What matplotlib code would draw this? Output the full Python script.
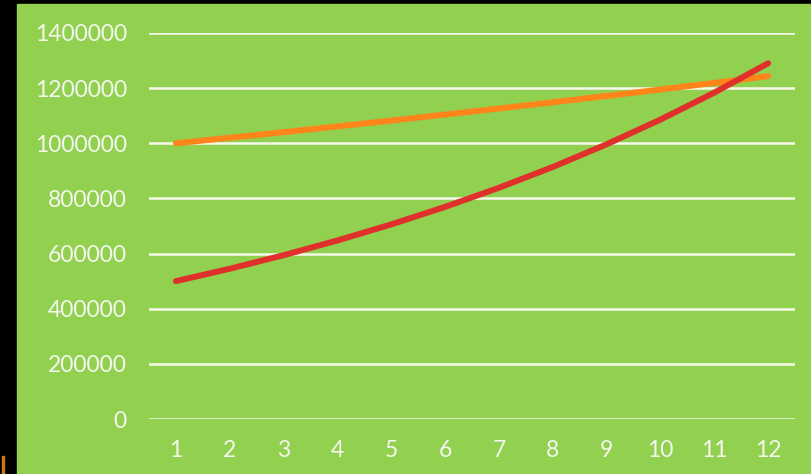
import matplotlib
matplotlib.use("Agg")
import matplotlib.pyplot as plt
from matplotlib.patches import Rectangle

# data
periods = list(range(1, 13))
orange_vals = [1000000, 1020000, 1040400, 1061208, 1082432, 1104081,
               1126162, 1148686, 1171659, 1195093, 1218994, 1243374]
red_vals = [500000, 545000, 594050, 647515, 705791, 769312,
            838550, 914020, 996281, 1085947, 1183682, 1290214]
yticks = [0, 200000, 400000, 600000, 800000, 1000000, 1200000, 1400000]

GREEN = "#92d050"
TXT = "#f4f7ee"

plt.rcParams["font.family"] = ["Lato", "DejaVu Sans"]

W, H = 812, 474
fig = plt.figure(figsize=(W / 100, H / 100), dpi=100, facecolor="black")
# green panel, black strip on left and top
fig.patches.append(Rectangle((17 / W, 0), 1 - 17 / W, 1 - 4 / H,
                             transform=fig.transFigure, color=GREEN,
                             zorder=-5))
# orange sliver at the bottom-left edge
fig.patches.append(Rectangle((2 / W, 0), 2.5 / W, 18 / H,
                             transform=fig.transFigure, color="#c87a10",
                             zorder=-4))

ax = fig.add_axes([149 / W, 55 / H, (795 - 149) / W, (419 - 33) / H])
ax.set_facecolor("none")
ax.plot(periods, orange_vals, color="#ff8419", lw=4.3,
        solid_capstyle="round", zorder=3)
ax.plot(periods, red_vals, color="#e0302b", lw=4.3,
        solid_capstyle="round", zorder=4)

ax.set_xlim(0.5, 12.5)
ax.set_ylim(0, 1400000)
ax.set_yticks(yticks)
ax.set_yticklabels([str(v) for v in yticks])
ax.set_xticks(periods)
ax.grid(True, axis="y", color="#f6f8ec", lw=1.8)
ax.set_axisbelow(True)
for s in ax.spines.values():
    s.set_visible(False)
ax.tick_params(length=0, labelsize=16.5, labelcolor=TXT)
ax.tick_params(axis="y", pad=16)
ax.tick_params(axis="x", pad=15)

fig.savefig("out.png", dpi=100, facecolor="black")
